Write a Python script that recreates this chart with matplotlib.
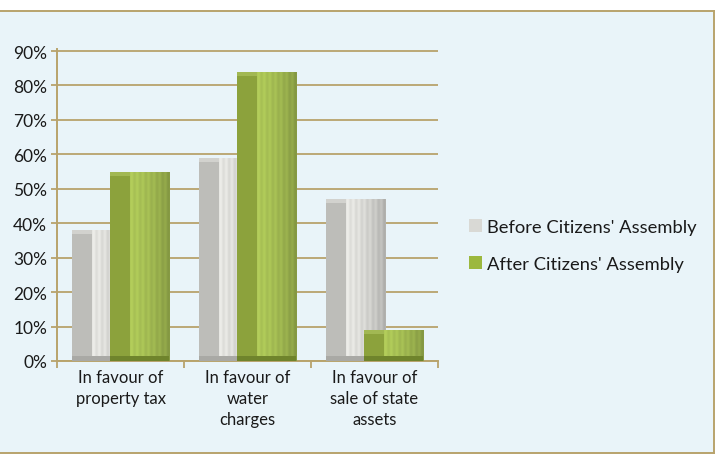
import numpy as np
import matplotlib
matplotlib.use("Agg")
import matplotlib.pyplot as plt
from matplotlib.patches import Rectangle, Patch
from matplotlib.colors import to_rgb

plt.rcParams['font.family'] = ['Lato', 'DejaVu Sans']

categories = ["In favour of\nproperty tax", "In favour of\nwater\ncharges", "In favour of\nsale of state\nassets"]
series_names = ["Before Citizens' Assembly", "After Citizens' Assembly"]
before = [0.38, 0.59, 0.47]
after = [0.55, 0.84, 0.09]
yticks = [0.0, 0.1, 0.2, 0.3, 0.4, 0.5, 0.6, 0.7, 0.8, 0.9]

BG = "#E9F4F9"
TAN = "#B8A36C"
TEXT = "#1A1A1A"
styles = [
    dict(front="#BDBDB9", light="#E6E6E2", dark="#A9A9A5", cap="#D2D2CE", legend="#D9D9D5"),
    dict(front="#8CA23C", light="#AEC858", dark="#6F842C", cap="#A2B853", legend="#9CB83E"),
]

fig = plt.figure(figsize=(7.15, 4.56), dpi=100)
fig.patch.set_facecolor("white")
panel = Rectangle((0, 0.004), 0.998, 0.97, transform=fig.transFigure, facecolor=BG,
                  edgecolor="none", zorder=-10)
fig.patches.append(panel)
fig.add_artist(plt.Line2D([0, 0.998], [0.974, 0.974], color=TAN, lw=1.4, transform=fig.transFigure))
fig.add_artist(plt.Line2D([0.998, 0.998], [0.004, 0.974], color=TAN, lw=1.4, transform=fig.transFigure))
fig.add_artist(plt.Line2D([0, 0.998], [0.005, 0.005], color=TAN, lw=1.4, transform=fig.transFigure))

ytop = 0.905
ax_h = (362 - 52) / 456 * ytop / 0.9
ax = fig.add_axes([57/715, 1-362/456, (438-57)/715, ax_h])
ax.set_facecolor("none")

x = np.arange(len(categories))
width = 0.47
offsets = [-0.15, 0.15]


def decorate(patch, st, z):
    x0 = patch.get_x(); w = patch.get_width(); h = patch.get_height()
    split = x0 + 0.34 * w
    N = 60
    t = np.linspace(0, 1, N)
    shade = 1.0 - 0.22 * t ** 1.6 + 0.035 * np.sin(2 * np.pi * 7 * t)
    base = np.array(to_rgb(st["light"]))
    img = np.clip(base[None, None, :] * shade[None, :, None], 0, 1)
    im = ax.imshow(img, extent=(split, x0 + w, 0, h), aspect='auto', interpolation='bilinear',
                   zorder=z + 0.1)
    clip = Rectangle((split, 0), x0 + w - split, h, transform=ax.transData)
    im.set_clip_path(clip)
    ch = min(0.012, h * 0.2)
    ax.add_patch(Rectangle((x0, h - ch), split - x0, ch, facecolor=st["cap"], edgecolor="none",
                           zorder=z + 0.2))
    bh = 0.014
    ax.add_patch(Rectangle((x0, 0), w, bh, facecolor=st["dark"], edgecolor="none", zorder=z + 0.3))


for i, (vals, st) in enumerate(zip([before, after], styles)):
    z = 3 + 2 * i
    bars = ax.bar(x + offsets[i], vals, width, color=st["front"], edgecolor="none", zorder=z,
                  label=series_names[i])
    for p in bars:
        decorate(p, st, z)

ax.set_xlim(-0.5, len(categories) - 0.5)
ax.set_ylim(0, ytop)
ax.set_yticks(yticks)
ax.set_yticklabels([f"{int(round(v*100))}%" for v in yticks], color=TEXT)
ax.yaxis.grid(True, color=TAN, lw=1.3, zorder=0)
ax.set_axisbelow(True)

ax.set_xticks(np.arange(len(categories) + 1) - 0.5)
ax.set_xticklabels([])
ax.set_xticks(x, minor=True)
ax.set_xticklabels(categories, minor=True, fontsize=12, linespacing=1.38, color=TEXT)
ax.tick_params(axis='x', which='minor', length=0, pad=6)
ax.tick_params(axis='x', which='major', length=5, color=TAN, width=1.3)
ax.tick_params(axis='y', length=4, color=TAN, width=1.3, labelsize=12.5, pad=3)

for s in ["top", "right"]:
    ax.spines[s].set_visible(False)
for s in ["left", "bottom"]:
    ax.spines[s].set_color(TAN)
    ax.spines[s].set_linewidth(1.4)

handles = [Patch(facecolor=st["legend"], edgecolor="none") for st in styles]
leg = fig.legend(handles, series_names, loc="center left", bbox_to_anchor=(0.633, 0.459),
                 frameon=False, fontsize=13.2, handlelength=0.7, handleheight=0.7,
                 handletextpad=0.3, labelspacing=1.15)
for t in leg.get_texts():
    t.set_color(TEXT)

fig.savefig("out.png", dpi=100, facecolor=fig.get_facecolor())
